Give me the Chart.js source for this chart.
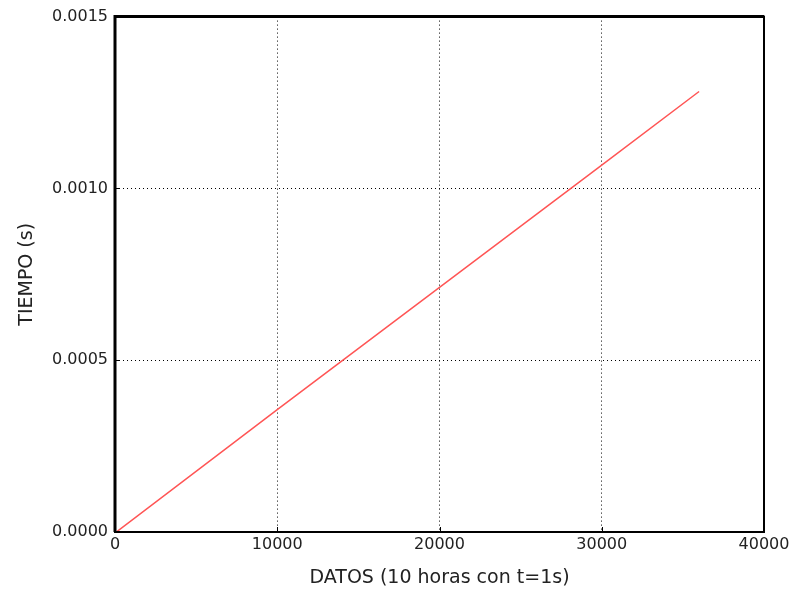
<!DOCTYPE html>
<html>
<head>
<meta charset="utf-8">
<script src="https://cdn.jsdelivr.net/npm/chart.js@4"></script>
<style>
  html, body { margin: 0; padding: 0; background: #fff; }
  #wrap { width: 798px; height: 593px; }
</style>
</head>
<body>
<div id="wrap"><canvas id="myChart" width="798" height="593"></canvas></div>
<script>
// datos
var datos = [0, 10000, 20000, 30000, 36000];
var tiempo = [-0.000003, 0.000356, 0.000712, 0.001068, 0.001282];
var xTicks = [0, 10000, 20000, 30000, 40000];
var yTicks = [0.0000, 0.0005, 0.0010, 0.0015];

var puntos = datos.map(function(d, i) { return {x: d, y: tiempo[i]}; });

// marco negro + marcas hacia dentro
var marco = {
    id: 'marco',
    afterDraw: function(chart) {
        var c = chart.ctx, a = chart.chartArea;
        var sx = chart.scales.x, sy = chart.scales.y;
        c.save();
        c.strokeStyle = '#000';
        c.lineWidth = 1;
        xTicks.forEach(function(v) {
            var px = Math.round(sx.getPixelForValue(v)) + 0.5;
            c.beginPath(); c.moveTo(px, a.bottom); c.lineTo(px, a.bottom - 5); c.stroke();
        });
        yTicks.forEach(function(v) {
            var py = Math.round(sy.getPixelForValue(v)) + 0.5;
            c.beginPath(); c.moveTo(a.left, py); c.lineTo(a.left + 5, py); c.stroke();
        });
        c.lineWidth = 2;
        c.strokeRect(a.left, a.top, a.right - a.left, a.bottom - a.top);
        c.lineWidth = 3;
        c.beginPath();
        c.moveTo(a.left, a.bottom); c.lineTo(a.left, a.top); c.lineTo(a.right, a.top);
        c.stroke();
        c.restore();
    }
};

function gridColor(ctx) {
    var s = ctx.scale;
    if (ctx.tick && (ctx.tick.value === s.min || ctx.tick.value === s.max)) return 'rgba(0,0,0,0)';
    return '#000';
}

var ctx = document.getElementById("myChart").getContext('2d');
var grafico = new Chart(ctx, {
    type: 'scatter',
    data: {
        datasets: [{
            label: "",
            data: puntos,
            showLine: true,
            borderColor: 'rgb(255, 85, 85)',
            backgroundColor: 'rgb(255, 85, 85)',
            borderWidth: 1.5,
            pointRadius: 0
        }]
    },
    options: {
        responsive: false,
        animation: false,
        layout: { padding: { top: 16, right: 34, left: 0, bottom: 0 } },
        plugins: { legend: { display: false }, tooltip: { enabled: false } },
        scales: {
            x: {
                type: 'linear',
                min: 0, max: 40000,
                afterFit: function(s) { s.height = 61; },
                afterBuildTicks: function(s) { s.ticks = xTicks.map(function(v) { return {value: v}; }); },
                ticks: {
                    color: '#222',
                    font: { family: 'DejaVu Sans', size: 16 },
                    padding: 3,
                    maxRotation: 0,
                    callback: function(v) { return String(v); }
                },
                grid: { color: gridColor, lineWidth: 1, drawTicks: false },
                border: { display: false, dash: [1, 3] },
                title: {
                    display: true,
                    text: 'DATOS (10 horas con t=1s)',
                    color: '#222',
                    font: { family: 'DejaVu Sans', size: 19 },
                    padding: { top: 0 }
                }
            },
            y: {
                type: 'linear',
                min: 0, max: 0.0015,
                afterFit: function(s) { s.width = 115; },
                afterBuildTicks: function(s) { s.ticks = yTicks.map(function(v) { return {value: v}; }); },
                ticks: {
                    color: '#222',
                    font: { family: 'DejaVu Sans', size: 16 },
                    padding: 7,
                    callback: function(v) { return v.toFixed(4); }
                },
                grid: { color: gridColor, lineWidth: 1, drawTicks: false },
                border: { display: false, dash: [1, 3] },
                title: {
                    display: true,
                    text: 'TIEMPO (s)',
                    color: '#222',
                    font: { family: 'DejaVu Sans', size: 19 },
                    padding: { top: 16, bottom: 0 }
                }
            }
        }
    },
    plugins: [marco]
});
</script>
</body>
</html>
